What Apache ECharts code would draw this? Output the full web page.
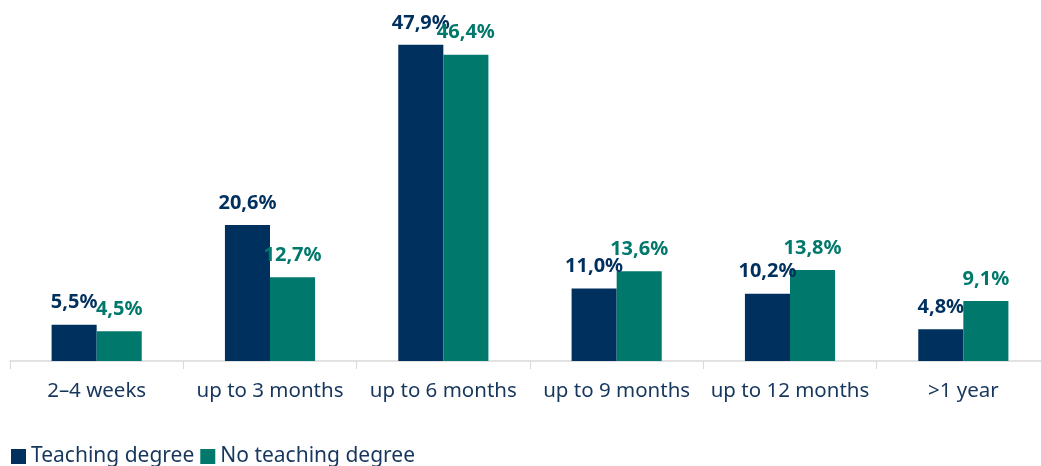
<!DOCTYPE html>
<html>
<head>
<meta charset="UTF-8">
<title>Chart</title>
<script src="https://cdn.jsdelivr.net/npm/echarts@6/dist/echarts.min.js"></script>
<style>html,body{margin:0;padding:0;background:#fff;overflow:hidden;}</style>
</head>
<body>
<div id="main" style="width:1060px;height:466px;"></div>
<script type="text/javascript">
// categories and values
var categories = ['2–4 weeks', 'up to 3 months', 'up to 6 months', 'up to 9 months', 'up to 12 months', '>1 year'];
var teaching = [5.5, 20.6, 47.9, 11.0, 10.2, 4.8];
var noTeaching = [4.5, 12.7, 46.4, 13.6, 13.8, 9.1];
var seriesNames = ['Teaching degree', 'No teaching degree'];

var navy = '#00305E';
var teal = '#00786B';
var font = 'Noto Sans';

function fmt(p) {
    return p.value.toFixed(1).replace('.', ',') + '%';
}

var chart = echarts.init(document.getElementById('main'));
chart.setOption({
    animation: false,
    textStyle: { fontFamily: font },
    legend: {
        left: 6,
        top: 441,
        itemWidth: 15,
        itemHeight: 15,
        itemGap: 6,
        icon: 'rect',
        textStyle: { fontSize: 21, color: '#17365D', fontFamily: font },
        data: seriesNames
    },
    // axis runs past the right edge of the picture
    grid: { left: 10, top: 31, width: 1040, bottom: 105, containLabel: false },
    xAxis: {
        type: 'category',
        data: categories,
        axisLine: { lineStyle: { color: '#D9D9D9', width: 1.5 } },
        axisTick: { show: true, length: 8, lineStyle: { color: '#D9D9D9' } },
        axisLabel: { color: '#17365D', fontSize: 20.5, margin: 20, fontFamily: font, interval: 0 }
    },
    yAxis: {
        type: 'value',
        min: 0,
        max: 50,
        show: false,
        splitLine: { show: false }
    },
    series: [
        {
            name: seriesNames[0],
            type: 'bar',
            data: teaching,
            barGap: '0%',
            barCategoryGap: '48%',
            itemStyle: { color: navy },
            label: {
                show: true, position: 'top', distance: 12,
                formatter: fmt, color: navy, fontSize: 20, fontWeight: 'bold', fontFamily: font
            }
        },
        {
            name: seriesNames[1],
            type: 'bar',
            data: noTeaching,
            itemStyle: { color: teal },
            label: {
                show: true, position: 'top', distance: 12,
                formatter: fmt, color: teal, fontSize: 20, fontWeight: 'bold', fontFamily: font
            }
        }
    ]
});
</script>
</body>
</html>
